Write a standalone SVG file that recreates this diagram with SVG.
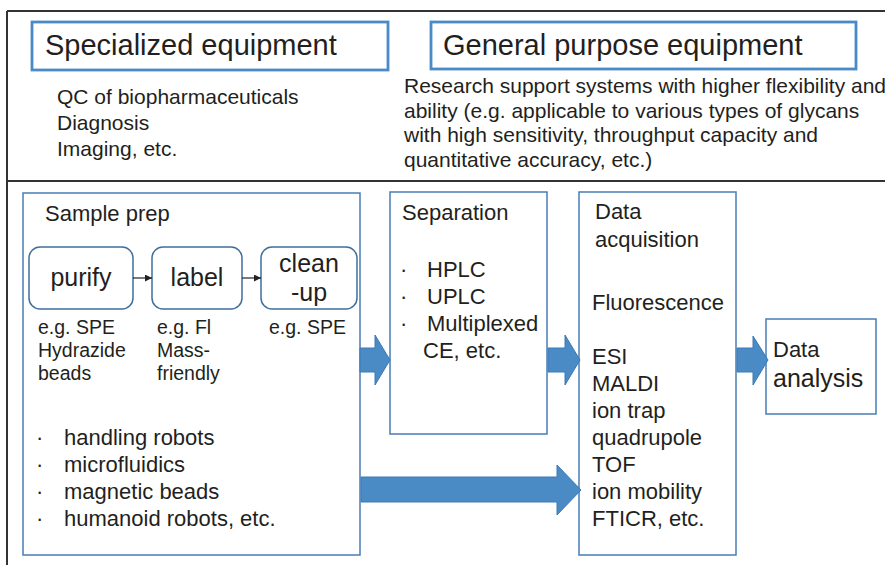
<svg xmlns="http://www.w3.org/2000/svg" width="885" height="565" viewBox="0 0 885 565">
  <defs>
    <marker id="ah" viewBox="0 0 10 10" refX="10" refY="5" markerWidth="7" markerHeight="7" markerUnits="userSpaceOnUse" orient="auto">
      <path d="M0,0 L10,5 L0,10 Z" fill="#222"/>
    </marker>
    <style>
      text { font-family: "Liberation Sans", Arial, sans-serif; fill: #231f20; }
      .frame { stroke: #333; stroke-width: 2; fill: none; }
      .head { fill: #fff; stroke: #4a8ac6; stroke-width: 2.8; }
      .box { fill: #fff; stroke: #4a7db3; stroke-width: 1.5; }
      .rbox { fill: #fff; stroke: #3f6f9f; stroke-width: 1.5; }
      .big { stroke: #3c7ab6; stroke-width: 1; fill: #4a8bc6; }
      .small { stroke: #222; stroke-width: 1.2; fill: none; }
      .t29 { font-size: 29px; }
      .t22 { font-size: 22px; }
      .t21 { font-size: 21px; }
      .t19 { font-size: 19.5px; }
      .t25 { font-size: 25px; }
    </style>
  </defs>

  <rect width="885" height="565" fill="#fff"/>

  <g id="frame">
    <path class="frame" d="M7,11 H885 M7,11 V565 M7,181 H885"/>
  </g>

  <g id="specialized">
    <rect class="head" x="32" y="22" width="356" height="48"/>
    <text class="t29" x="45" y="55">Specialized equipment</text>
    <text class="t21" x="57" y="104">QC of biopharmaceuticals</text>
    <text class="t21" x="57" y="130">Diagnosis</text>
    <text class="t21" x="57" y="156">Imaging, etc.</text>
  </g>

  <g id="general">
    <rect class="head" x="431" y="22" width="425" height="47"/>
    <text class="t29" x="443" y="55">General purpose equipment</text>
    <text class="t21" x="404" y="93">Research support systems with higher flexibility and</text>
    <text class="t21" x="404" y="118">ability (e.g. applicable to various types of glycans</text>
    <text class="t21" x="404" y="142">with high sensitivity, throughput capacity and</text>
    <text class="t21" x="404" y="167">quantitative accuracy, etc.)</text>
  </g>

  <g id="sample-prep">
    <rect class="box" x="23" y="193" width="337" height="362"/>
    <text class="t22" x="45" y="221">Sample prep</text>
    <text class="t19" x="38" y="334">e.g. SPE</text>
    <text class="t19" x="38" y="357">Hydrazide</text>
    <text class="t19" x="38" y="380">beads</text>
    <text class="t19" x="157" y="334">e.g. Fl</text>
    <text class="t19" x="157" y="357">Mass-</text>
    <text class="t19" x="157" y="380">friendly</text>
    <text class="t19" x="269" y="334">e.g. SPE</text>
    <text class="t22" x="36" y="445">·</text>
    <text class="t22" x="64" y="445">handling robots</text>
    <text class="t22" x="36" y="472">·</text>
    <text class="t22" x="64" y="472">microfluidics</text>
    <text class="t22" x="36" y="499">·</text>
    <text class="t22" x="64" y="499">magnetic beads</text>
    <text class="t22" x="36" y="526">·</text>
    <text class="t22" x="64" y="526">humanoid robots, etc.</text>
  </g>

  <g id="purify">
    <rect class="rbox" x="29" y="247" width="104" height="62" rx="11"/>
    <text class="t25" x="81" y="286" text-anchor="middle">purify</text>
  </g>
  <g id="label">
    <rect class="rbox" x="152" y="247" width="90" height="62" rx="11"/>
    <text class="t25" x="197" y="286" text-anchor="middle">label</text>
  </g>
  <g id="clean-up">
    <rect class="rbox" x="261" y="247" width="96" height="62" rx="11"/>
    <text class="t25" x="309" y="272" text-anchor="middle">clean</text>
    <text class="t25" x="309" y="301" text-anchor="middle">-up</text>
  </g>

  <g id="separation">
    <rect class="box" x="390" y="192" width="157" height="242"/>
    <text class="t22" x="402" y="220">Separation</text>
    <text class="t22" x="400" y="277">·</text>
    <text class="t22" x="427" y="277">HPLC</text>
    <text class="t22" x="400" y="304">·</text>
    <text class="t22" x="427" y="304">UPLC</text>
    <text class="t22" x="400" y="331">·</text>
    <text class="t22" x="427" y="331">Multiplexed</text>
    <text class="t22" x="423" y="358">CE, etc.</text>
  </g>

  <g id="data-acquisition">
    <rect class="box" x="579" y="192" width="157" height="363"/>
    <text class="t22" x="595" y="219">Data</text>
    <text class="t22" x="595" y="247">acquisition</text>
    <text class="t22" x="592" y="310">Fluorescence</text>
    <text class="t22" x="592" y="364">ESI</text>
    <text class="t22" x="592" y="391">MALDI</text>
    <text class="t22" x="592" y="418">ion trap</text>
    <text class="t22" x="592" y="445">quadrupole</text>
    <text class="t22" x="592" y="472">TOF</text>
    <text class="t22" x="592" y="499">ion mobility</text>
    <text class="t22" x="592" y="526">FTICR, etc.</text>
  </g>

  <g id="data-analysis">
    <rect class="box" x="766" y="319" width="110" height="95"/>
    <text class="t22" x="773" y="357">Data</text>
    <text class="t25" x="773" y="387">analysis</text>
  </g>

  <g id="connectors">
    <line class="small" x1="133" y1="278" x2="152" y2="278" marker-end="url(#ah)"/>
    <line class="small" x1="242" y1="278" x2="261" y2="278" marker-end="url(#ah)"/>
    <path class="big" d="M360,348 H375 V335 L390,360 L375,385 V372 H360 Z"/>
    <path class="big" d="M548,348 H565 V335 L580,360 L565,385 V372 H548 Z"/>
    <path class="big" d="M737,348 H753 V336 L768,360 L753,385 V372 H737 Z"/>
    <path class="big" d="M361,477 H557 V465 L581,490 L557,515 V502 H361 Z"/>
  </g>
</svg>
